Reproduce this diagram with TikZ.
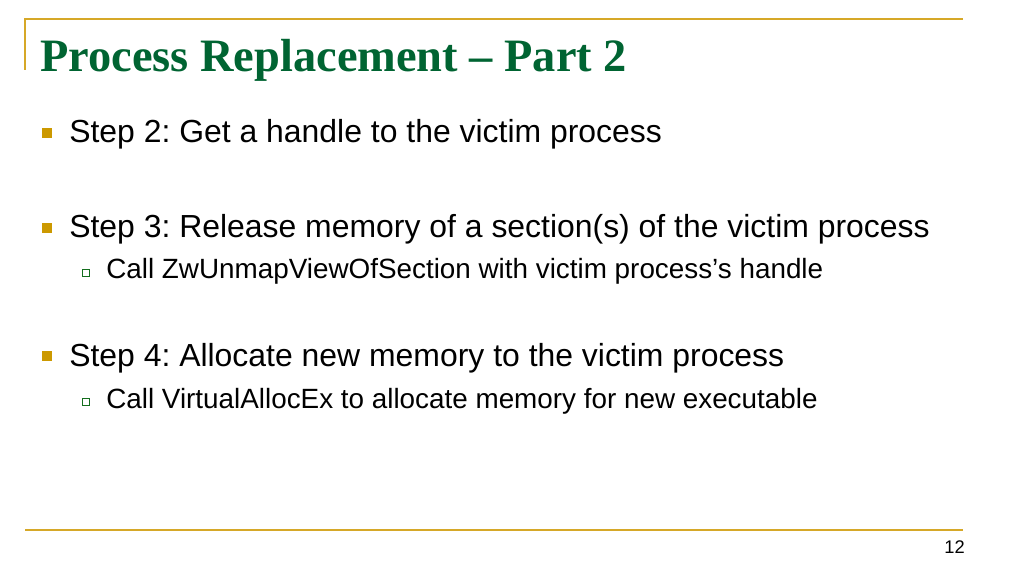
\documentclass[tikz,border=0pt]{standalone}
\usepackage{fontspec}
\setmainfont{Liberation Serif}
\setsansfont{Liberation Sans}
\frenchspacing
\definecolor{rulegold}{RGB}{214,168,40}
\definecolor{bulletgold}{RGB}{204,153,0}
\definecolor{titlegreen}{RGB}{0,100,50}
\definecolor{subgreen}{RGB}{20,110,30}
\tikzset{
  titletext/.style={anchor=base west, inner sep=0pt, font=\bfseries\fontsize{33}{36}\selectfont, text=titlegreen},
  steptext/.style={anchor=base west, inner sep=0pt, font=\sffamily\fontsize{22.7}{26}\selectfont},
  subtext/.style={anchor=base west, inner sep=0pt, font=\sffamily\fontsize{19.8}{22}\selectfont},
  stepbullet/.style={fill=bulletgold, draw=none, minimum size=6.5pt, inner sep=0pt},
  subbullet/.style={draw=subgreen, line width=0.8pt, fill=white, minimum size=5.5pt, inner sep=0pt}
}
\begin{document}
\begin{tikzpicture}[x=0.025cm, y=-0.025cm]
\useasboundingbox[fill=white] (0,0) rectangle (1024,576);
% frame lines
\draw[rulegold, line width=1pt] (25,70) -- (25,19) -- (963,19);
\draw[rulegold, line width=1pt] (25,530) -- (963,530);
% title
\node (title) [titletext] at (40,72) {Process Replacement -- Part 2};
% steps
\node (b2) [stepbullet] at (47,133) {};
\node (s2) [steptext] at (69,143) {Step 2: Get a handle to the victim process};
\node (b3) [stepbullet] at (47,228) {};
\node (s3) [steptext] at (69,238) {Step 3: Release memory of a section(s) of the victim process};
\node (c3) [subbullet] at (86,273) {};
\node (t3) [subtext] at (106,279) {Call ZwUnmapViewOfSection with victim process’s handle};
\node (b4) [stepbullet] at (47,356) {};
\node (s4) [steptext] at (69,366) {Step 4: Allocate new memory to the victim process};
\node (c4) [subbullet] at (86,402) {};
\node (t4) [subtext] at (106,408) {Call VirtualAllocEx to allocate memory for new executable};
% page number
\node (page) [anchor=base east, inner sep=0pt, font=\sffamily\fontsize{13}{15}\selectfont] at (965,553) {12};
\end{tikzpicture}
\end{document}
